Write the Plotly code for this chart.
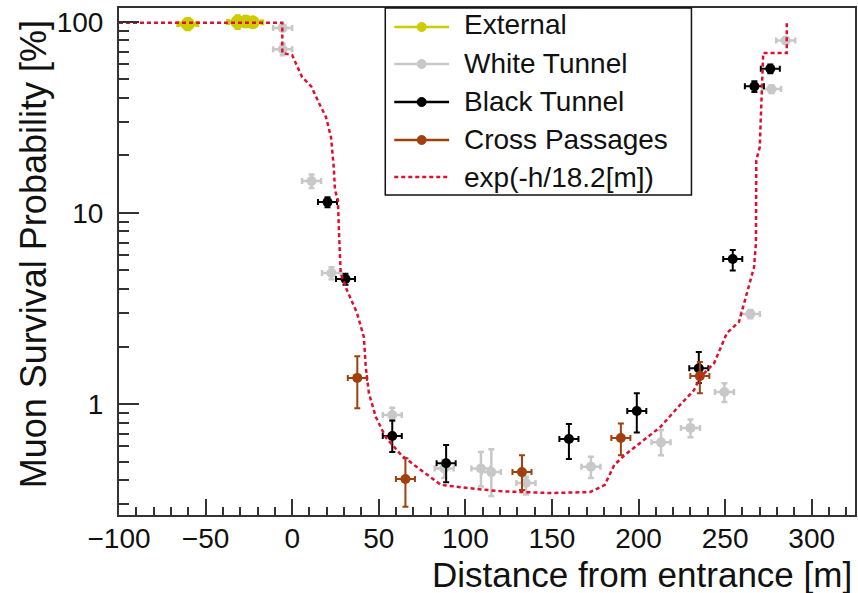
import plotly.graph_objects as go

# ---------------- data ----------------
ext_x = [-60.3, -31.5, -26.8, -22.8]
ext_y = [97.5, 100.0, 100.5, 99.5]
ext_ex = [5.5, 5.5, 5.5, 5.5]
ext_eup = [6.0, 7.0, 4.0, 4.0]
ext_edn = [6.0, 7.0, 4.0, 4.0]

wt_x = [-5.5, -5.5, 11.2, 22.7, 57.8, 87.8, 109.0, 115.0, 135.0, 172.5, 213.0, 230.0, 249.6, 264.6, 276.8, 285.0]
wt_y = [93.0, 72.0, 14.7, 4.85, 0.876, 0.46, 0.46, 0.44, 0.386, 0.47, 0.63, 0.75, 1.155, 2.96, 44.5, 80.0]
wt_ex = [5.5] * 16
wt_eup = [3.0, 5.0, 1.2, 0.35, 0.08, 0.05, 0.10, 0.14, 0.03, 0.06, 0.10, 0.08, 0.13, 0.15, 2.0, 3.0]
wt_edn = [3.0, 5.0, 1.2, 0.35, 0.06, 0.05, 0.09, 0.11, 0.05, 0.06, 0.09, 0.08, 0.13, 0.15, 2.0, 3.0]

bt_x = [20.4, 30.8, 57.8, 88.9, 159.8, 199.0, 234.8, 254.4, 266.9, 276.1]
bt_y = [11.4, 4.51, 0.68, 0.49, 0.656, 0.92, 1.54, 5.74, 46.0, 56.9]
bt_ex = [5.5] * 10
bt_eup = [0.7, 0.3, 0.14, 0.12, 0.13, 0.22, 0.33, 0.66, 3.0, 3.0]
bt_edn = [0.7, 0.3, 0.12, 0.10, 0.14, 0.21, 0.25, 0.74, 3.0, 3.0]

cp_x = [37.6, 65.4, 132.7, 189.8, 235.4]
cp_y = [1.37, 0.405, 0.44, 0.664, 1.40]
cp_ex = [5.5] * 5
cp_eup = [0.41, 0.115, 0.10, 0.126, 0.26]
cp_edn = [0.42, 0.115, 0.085, 0.124, 0.26]

model_x = [-100, -5.7, -5.7, 0, 5.7, 11, 15.5, 19.5, 22.4, 24, 24.7, 26.4, 27, 28, 31.6, 37.4,
           41.4, 42.5, 44.3, 48.3, 54, 63, 73, 86, 102, 119, 148, 172, 180.5, 186, 192, 201,
           212.6, 224, 232, 235.6, 243.7, 251, 258, 262.6, 266.7, 267.8, 268, 270, 271, 272,
           285.6, 285.6]
model_y = [99, 99, 68.8, 67, 51.5, 46, 37.6, 31.8, 25, 17.4, 13.2, 11.7, 8.1, 4.85, 3.95, 3.0,
           2.24, 1.56, 1.14, 0.855, 0.67, 0.54, 0.46, 0.377, 0.363, 0.35, 0.342, 0.346, 0.377, 0.48, 0.54, 0.625,
           0.758, 0.99, 1.18, 1.38, 1.64, 2.35, 2.69, 3.81, 5.2, 6.96, 18.9, 22.1, 42.4, 68.8,
           68.8, 100]

x_ticks = [-100, -50, 0, 50, 100, 150, 200, 250, 300]
y_ticks = [1, 10, 100]
y_ticktext = ["1", "10", "100"]
y_minor = [0.3, 0.4, 0.5, 0.6, 0.7, 0.8, 0.9, 2, 3, 4, 5, 6, 7, 8, 9, 20, 30, 40, 50, 60, 70, 80, 90]

legend_names = ["External", "White Tunnel", "Black Tunnel", "Cross Passages", "exp(-h/18.2[m])"]

C_EXT = "#cccc00"
C_WT = "#c8c8c8"
C_BT = "#000000"
C_CP = "#a0400d"
C_MOD = "#dd1030"
FONT = "Liberation Sans, Arial, Helvetica, sans-serif"

# ---------------- figure ----------------
W, H = 858, 593
ML, MR, MT, MB = 119, 1, 8, 78
PW, PH = W - ML - MR, H - MT - MB


def px2paper_x(px):
    return (px - ML) / PW


def px2paper_y(py):
    return (H - MB - py) / PH


fig = go.Figure()


def add_series(x, y, ex, eup, edn, color, name, msize=10, thick=2):
    fig.add_trace(go.Scatter(
        x=x, y=y, mode="markers", name=name, showlegend=False,
        marker=dict(color=color, size=msize, symbol="circle"),
        error_x=dict(type="data", array=ex, symmetric=True, color=color, thickness=thick, width=3),
        error_y=dict(type="data", array=eup, arrayminus=edn, symmetric=False,
                     color=color, thickness=thick, width=3),
    ))


add_series(ext_x, ext_y, ext_ex, ext_eup, ext_edn, C_EXT, legend_names[0], msize=14, thick=4)
add_series(wt_x, wt_y, wt_ex, wt_eup, wt_edn, C_WT, legend_names[1], msize=10, thick=2.5)
add_series(bt_x, bt_y, bt_ex, bt_eup, bt_edn, C_BT, legend_names[2])
add_series(cp_x, cp_y, cp_ex, cp_eup, cp_edn, C_CP, legend_names[3])

fig.add_trace(go.Scatter(
    x=model_x, y=model_y, mode="lines", name=legend_names[4], showlegend=False,
    line=dict(color=C_MOD, width=2.5, dash="4px,3px"),
))

# ---------------- manual legend (ROOT style) ----------------
shapes = []
annotations = []
box = dict(type="rect", xref="paper", yref="paper",
           x0=px2paper_x(386), x1=px2paper_x(693), y0=px2paper_y(195), y1=px2paper_y(8),
           line=dict(color="#111111", width=1.5), fillcolor="white", layer="above")
shapes.append(box)

line_y = [27, 64, 102, 140, 177]
text_y = [25, 63, 101, 139.5, 177]
colors = [C_EXT, C_WT, C_BT, C_CP, C_MOD]
for i, name in enumerate(legend_names):
    ly = px2paper_y(line_y[i])
    if i < 4:
        shapes.append(dict(type="line", xref="paper", yref="paper",
                           x0=px2paper_x(395), x1=px2paper_x(450), y0=ly, y1=ly,
                           line=dict(color=colors[i], width=2.5), layer="above"))
        shapes.append(dict(type="circle", xref="paper", yref="paper",
                           xsizemode="pixel", ysizemode="pixel",
                           xanchor=px2paper_x(422.5), yanchor=ly,
                           x0=-4.5, x1=4.5, y0=-4.5, y1=4.5,
                           fillcolor=colors[i], line=dict(color=colors[i], width=1), layer="above"))
    else:
        shapes.append(dict(type="line", xref="paper", yref="paper",
                           x0=px2paper_x(395), x1=px2paper_x(450), y0=ly, y1=ly,
                           line=dict(color=colors[i], width=2.5, dash="4px,3px"), layer="above"))
    annotations.append(dict(
        text=name, xref="paper", yref="paper", x=px2paper_x(463), y=px2paper_y(text_y[i]),
        xanchor="left", yanchor="middle", showarrow=False,
        font=dict(family=FONT, size=28, color="#111111"),
    ))

# axis titles (ROOT style: right / top aligned)
annotations.append(dict(
    text="Distance from entrance [m]", xref="paper", yref="paper",
    x=px2paper_x(856), y=px2paper_y(574), xanchor="right", yanchor="middle",
    showarrow=False, font=dict(family=FONT, size=35, color="#111111"),
))
annotations.append(dict(
    text="Muon Survival Probability [%]", xref="paper", yref="paper",
    x=px2paper_x(33), y=px2paper_y(18), xanchor="center", yanchor="top", textangle=-90,
    showarrow=False, font=dict(family=FONT, size=36, color="#111111"),
))

axis_color = "#333333"
fig.update_layout(
    width=W, height=H,
    margin=dict(l=ML, r=MR, t=MT, b=MB, pad=0),
    paper_bgcolor="white", plot_bgcolor="white",
    font=dict(family=FONT, color="#111111"),
    showlegend=False,
    shapes=shapes, annotations=annotations,
    xaxis=dict(
        range=[-100, 325], tickvals=x_ticks, ticks="inside", ticklen=16, tickwidth=1.5,
        tickcolor=axis_color, showline=True, linecolor=axis_color, linewidth=2, mirror=True,
        showgrid=False, zeroline=False, tickfont=dict(family=FONT, size=28, color="#111111"),
        ticklabelstandoff=-3,
        minor=dict(tick0=-100, dtick=10, ticks="inside", ticklen=8, tickwidth=1.5, tickcolor=axis_color),
    ),
    yaxis=dict(
        type="log", range=[-0.581, 2.073], tickvals=y_ticks, ticktext=y_ticktext,
        ticks="inside", ticklen=20, tickwidth=1.5, tickcolor=axis_color,
        showline=True, linecolor=axis_color, linewidth=2, mirror=True,
        showgrid=False, zeroline=False, tickfont=dict(family=FONT, size=28, color="#111111"),
        ticklabelstandoff=8,
        minor=dict(tickvals=y_minor, ticks="inside", ticklen=10, tickwidth=1.5, tickcolor=axis_color),
    ),
)

fig.write_html("out.html")
